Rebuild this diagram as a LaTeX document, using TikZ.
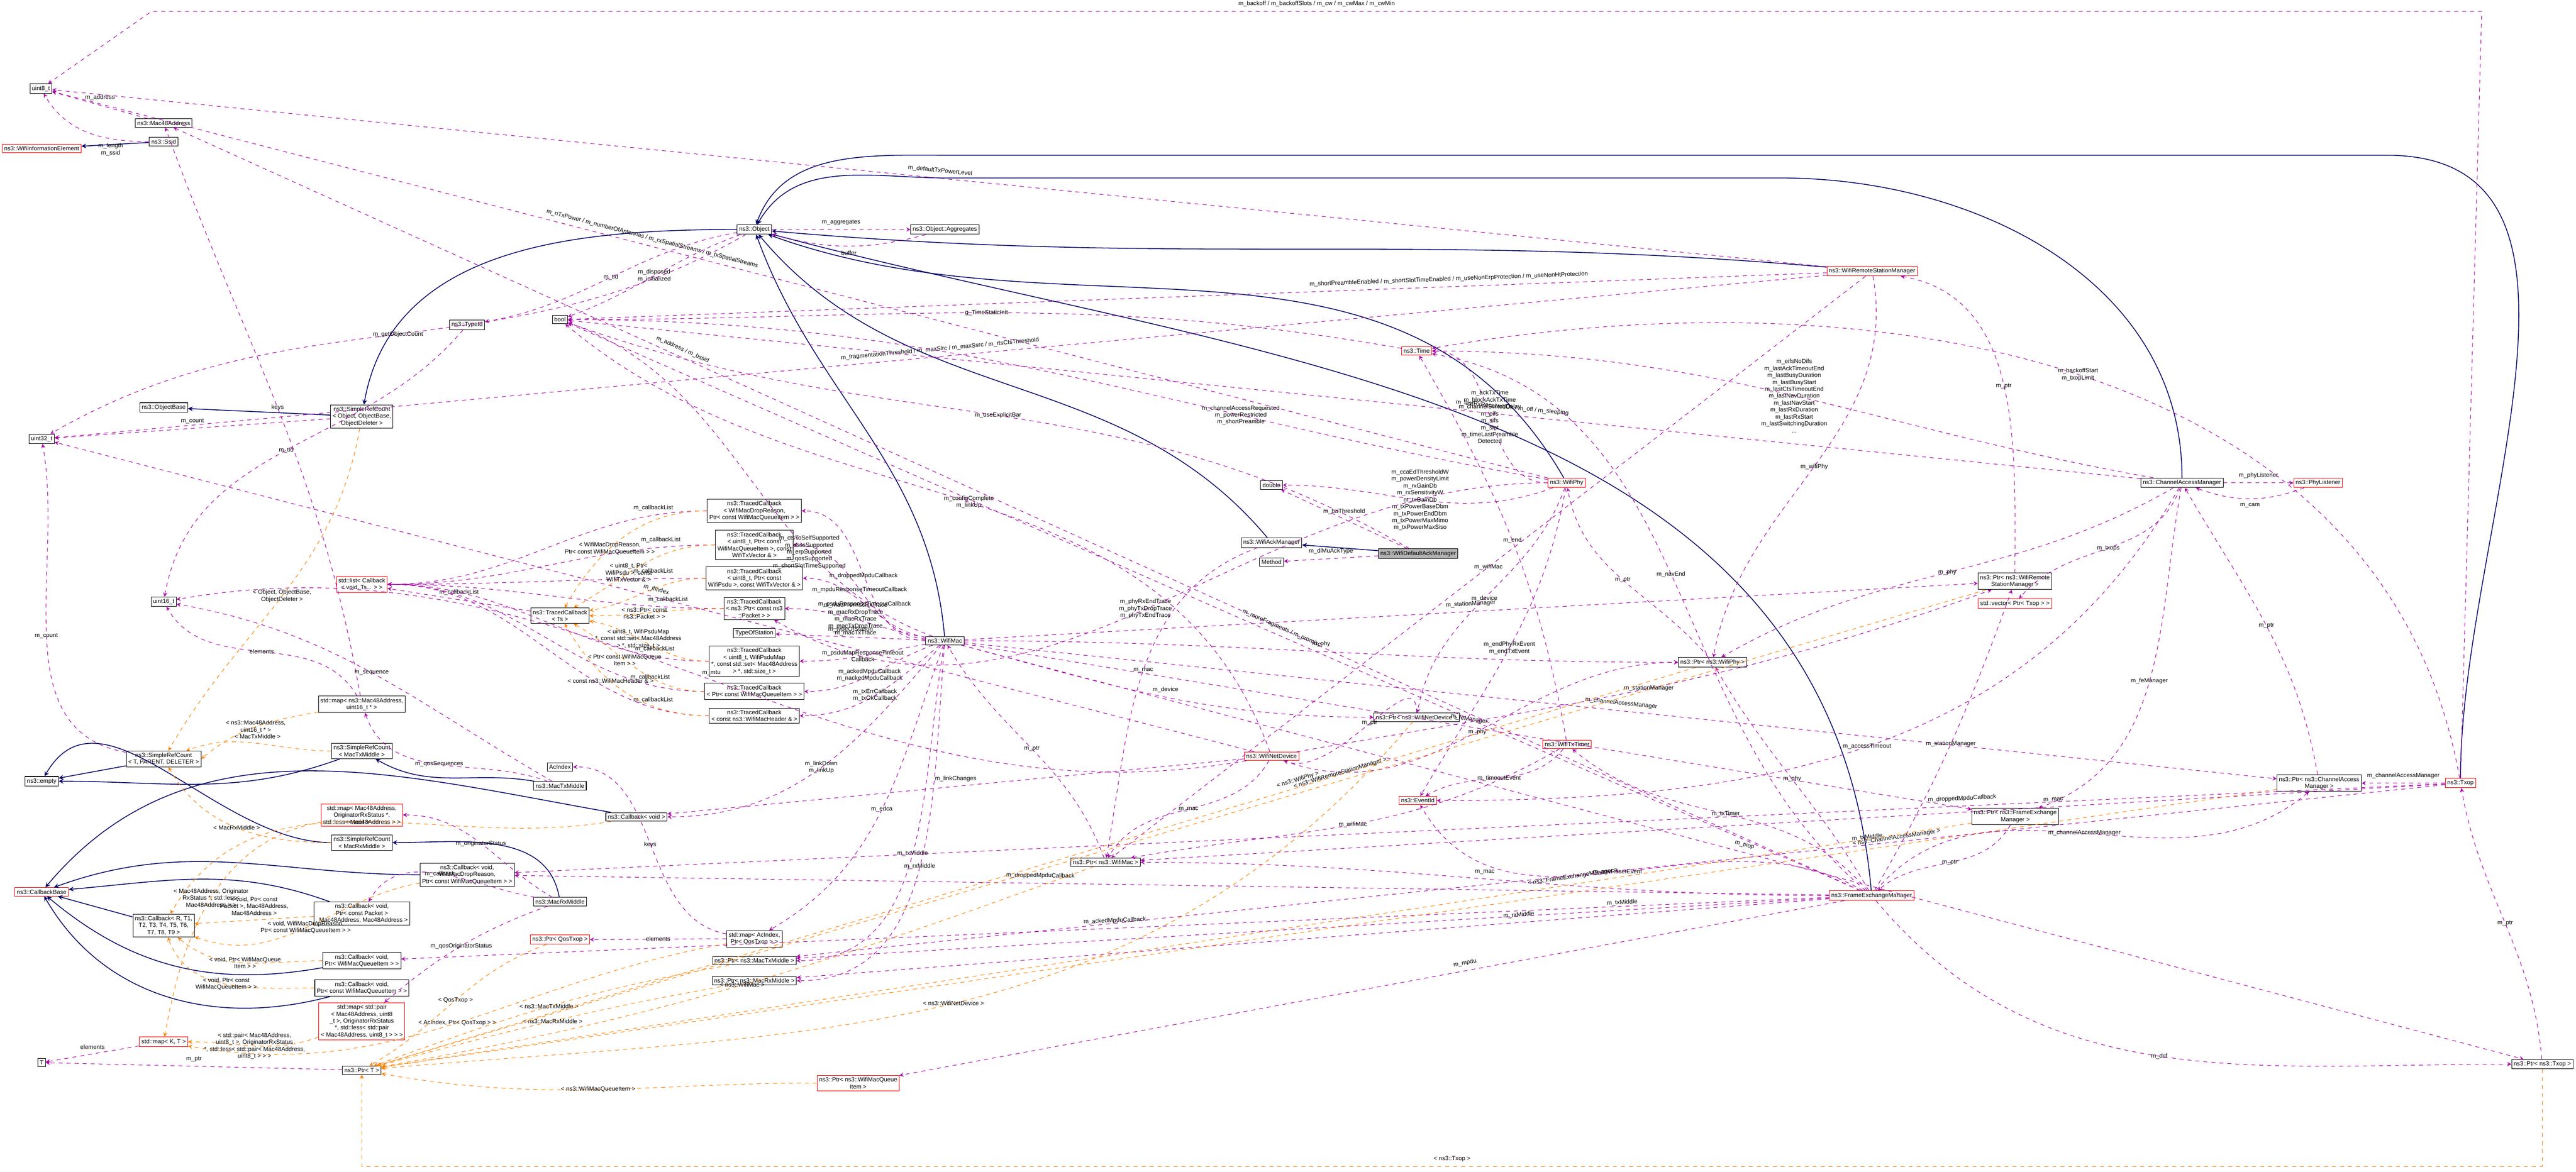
\documentclass[tikz,border=0pt]{standalone}
\usepackage{fontspec}
\setmainfont{Liberation Sans}
\usetikzlibrary{shapes,positioning,arrows}
\newcommand{\tinyf}{\fontsize{4.5}{5.2}\selectfont}

\begin{document}
\begin{tikzpicture}[
    box/.style={draw=black, fill=white, inner sep=1.5pt, font=\tinyf, align=center},
    redbox/.style={box, draw=red},
    inh/.style={draw=blue!40!black, -stealth, semithick},
    use/.style={draw=violet!70!magenta, dashed, -stealth},
    tpl/.style={draw=orange, dashed, -stealth},
    lbl/.style={font=\tinyf, align=center, midway, fill=white, fill opacity=0, text opacity=1}]
    \useasboundingbox (0,0) rectangle (67.99,-30.94);

    % left column
    \node[box] (u8) at (1.08,-2.34) {uint8\_t};
    \node[redbox] (wie) at (1.10,-3.92) {ns3::WifiInformationElement};
    \node[box] (u32) at (1.10,-11.59) {uint32\_t};
    \node[box] (empty) at (1.10,-20.63) {ns3::empty};
    \node[redbox] (cbbase) at (1.10,-23.55) {ns3::CallbackBase};
    \node[box] (tT) at (1.10,-28.06) {T};

    % second column
    \node[box] (mac48) at (4.32,-3.25) {ns3::Mac48Address};
    \node[box] (ssid) at (4.32,-3.74) {ns3::Ssid};
    \node[box] (objbase) at (4.32,-10.76) {ns3::ObjectBase};
    \node[box] (u16) at (4.32,-15.89) {uint16\_t};
    \node[box] (srct) at (4.32,-20.04) {ns3::SimpleRefCount\\< T, PARENT, DELETER >};
    \node[box] (cbgen) at (4.32,-24.44) {ns3::Callback< R, T1,\\T2, T3, T4, T5, T6,\\T7, T8, T9 >};
    \node[redbox] (mapk) at (4.32,-27.51) {std::map< K, T >};

    % third column
    \node[box] (srcobj) at (9.55,-11.00) {ns3::SimpleRefCount\\< Object, ObjectBase,\\ObjectDeleter >};
    \node[redbox] (stdlist) at (9.55,-15.43) {std::list< Callback\\< void, Ts... > >};
    \node[box] (mapmu) at (9.55,-18.60) {std::map< ns3::Mac48Address,\\uint16\_t * >};
    \node[box] (srctx) at (9.55,-19.83) {ns3::SimpleRefCount\\< MacTxMiddle >};
    \node[redbox] (maporig) at (9.55,-21.52) {std::map< Mac48Address,\\OriginatorRxStatus *,\\std::less< Mac48Address > >};
    \node[box] (srcrx) at (9.55,-22.25) {ns3::SimpleRefCount\\< MacRxMiddle >};
    \node[box] (cbpkt) at (9.55,-24.12) {ns3::Callback< void,\\Ptr< const Packet >\\, Mac48Address, Mac48Address >};
    \node[box] (cbqi) at (9.55,-25.37) {ns3::Callback< void,\\Ptr< WifiMacQueueItem > >};
    \node[box] (cbcqi) at (9.55,-26.09) {ns3::Callback< void,\\Ptr< const WifiMacQueueItem > >};
    \node[redbox] (mappair) at (9.55,-26.97) {std::map< std::pair\\< Mac48Address, uint8\\\_t >, OriginatorRxStatus\\ *, std::less< std::pair\\< Mac48Address, uint8\_t > > >};
    \node[box] (ptrt) at (9.55,-28.26) {ns3::Ptr< T >};
    \node[box] (tid) at (12.33,-8.58) {ns3::TypeId};
    \node[box] (cbdrop) at (12.33,-23.10) {ns3::Callback< void,\\WifiMacDropReason,\\Ptr< const WifiMacQueueItem > >};

    % fourth column
    \node[box] (boolt) at (14.78,-8.44) {bool};
    \node[box] (tcgen) at (14.78,-16.26) {ns3::TracedCallback\\< Ts >};
    \node[box] (acidx) at (14.78,-20.25) {AcIndex};
    \node[box] (txmid) at (14.78,-20.75) {ns3::MacTxMiddle};
    \node[box] (rxmid) at (14.78,-23.81) {ns3::MacRxMiddle};
    \node[redbox] (ptrqos) at (14.78,-24.81) {ns3::Ptr< QosTxop >};
    \node[box] (cbvoid) at (16.80,-21.57) {ns3::Callback< void >};

    % fifth column
    \node[box] (obj) at (19.91,-6.06) {ns3::Object};
    \node[box] (tcdrop) at (19.91,-13.49) {ns3::TracedCallback\\< WifiMacDropReason,\\ Ptr< const WifiMacQueueItem > >};
    \node[box] (tcmpdu) at (19.91,-14.39) {ns3::TracedCallback\\< uint8\_t, Ptr< const\\ WifiMacQueueItem >, const\\ WifiTxVector \& >};
    \node[box] (tcpsdu) at (19.91,-15.27) {ns3::TracedCallback\\< uint8\_t, Ptr< const\\ WifiPsdu >, const WifiTxVector \& >};
    \node[box] (tcpkt) at (19.91,-16.07) {ns3::TracedCallback\\< ns3::Ptr< const ns3\\::Packet > >};
    \node[box] (tos) at (19.91,-16.72) {TypeOfStation};
    \node[box] (tcmap) at (19.91,-17.46) {ns3::TracedCallback\\< uint8\_t, WifiPsduMap\\ *, const std::set< Mac48Address\\ > *, std::size\_t >};
    \node[box] (tccqi) at (19.91,-18.26) {ns3::TracedCallback\\< Ptr< const WifiMacQueueItem > >};
    \node[box] (tchdr) at (19.91,-18.90) {ns3::TracedCallback\\< const ns3::WifiMacHeader \& >};
    \node[box] (mapac) at (19.91,-24.79) {std::map< AcIndex,\\Ptr< QosTxop > >};
    \node[box] (ptrtx) at (19.91,-25.37) {ns3::Ptr< ns3::MacTxMiddle >};
    \node[box] (ptrrx) at (19.91,-25.90) {ns3::Ptr< ns3::MacRxMiddle >};

    % middle
    \node[box] (aggr) at (24.94,-6.06) {ns3::Object::Aggregates};
    \node[box] (wmac) at (24.94,-16.92) {ns3::WifiMac};
    \node[redbox] (ptrqi) at (22.65,-28.60) {ns3::Ptr< ns3::WifiMacQueue\\Item >};
    \node[box] (ptrmac) at (29.18,-22.77) {ns3::Ptr< ns3::WifiMac >};
    \node[box] (dbl) at (33.56,-12.81) {double};
    \node[box] (wack) at (33.56,-14.33) {ns3::WifiAckManager};
    \node[box] (meth) at (33.56,-14.84) {Method};
    \node[redbox] (wdev) at (33.56,-19.97) {ns3::WifiNetDevice};
    \node[box, fill=gray!60] (wdack) at (37.43,-14.62) {ns3::WifiDefaultAckManager};
    \node[redbox] (wtime) at (37.39,-9.27) {ns3::Time};
    \node[box] (ptrdev) at (37.39,-18.94) {ns3::Ptr< ns3::WifiNetDevice >};
    \node[redbox] (evid) at (37.42,-21.14) {ns3::EventId};
    \node[redbox] (wphy) at (41.35,-12.75) {ns3::WifiPhy};
    \node[redbox] (txtimer) at (41.36,-19.66) {ns3::WifiTxTimer};
    \node[box] (ptrphy) at (45.20,-17.49) {ns3::Ptr< ns3::WifiPhy >};
    \node[redbox] (wrsm) at (49.41,-7.16) {ns3::WifiRemoteStationManager};
    \node[redbox] (fem) at (49.40,-23.65) {ns3::FrameExchangeManager};
    \node[box] (ptrrsm) at (53.18,-15.35) {ns3::Ptr< ns3::WifiRemote\\StationManager >};
    \node[redbox] (vtxop) at (53.18,-15.94) {std::vector< Ptr< Txop > >};
    \node[box] (ptrfem) at (53.19,-21.56) {ns3::Ptr< ns3::FrameExchange\\Manager >};
    \node[box] (cam) at (57.59,-12.75) {ns3::ChannelAccessManager};
    \node[redbox] (phyl) at (61.18,-12.75) {ns3::PhyListener};
    \node[box] (ptrcam) at (61.21,-20.68) {ns3::Ptr< ns3::ChannelAccess\\Manager >};
    \node[redbox] (txop) at (64.94,-20.68) {ns3::Txop};
    \node[box] (ptrtxop) at (67.10,-28.10) {ns3::Ptr< ns3::Txop >};

    % inheritance
    \draw[inh] (ssid) -- (wie);
    \draw[inh] (srcobj) -- (objbase);
    \draw[inh] (obj) to[out=180,in=80] (srcobj);
    \draw[inh] (srct) -- (empty);
    \draw[inh] (srctx) to[out=200,in=0] (empty);
    \draw[inh] (srcrx) to[out=180,in=60] (empty);
    \draw[inh] (txmid) to[out=170,in=-30] (srctx);
    \draw[inh] (rxmid) to[out=100,in=0] (srcrx);
    \draw[inh] (cbgen) -- (cbbase);
    \draw[inh] (cbdrop) to[out=180,in=20] (cbbase);
    \draw[inh] (cbpkt) to[out=160,in=5] (cbbase);
    \draw[inh] (cbqi) to[out=190,in=-40] (cbbase);
    \draw[inh] (cbcqi) to[out=195,in=-60] (cbbase);
    \draw[inh] (cbvoid) to[out=170,in=50] (cbbase);
    \draw[inh] (wmac) to[out=95,in=-70] (obj);
    \draw[inh] (wack) to[out=130,in=-50] (obj);
    \draw[inh] (wdack) -- (wack);
    \draw[inh] (wrsm) to[out=175,in=-5] (obj);
    \draw[inh] (wphy) to[out=120,in=-20] (obj);
    \draw[inh] (cam) to[out=90,in=0] (47,-4.7) -- (25,-4.7) to[out=180,in=60] (obj);
    \draw[inh] (txop) to[out=90,in=0] (63,-4.1) -- (25,-4.1) to[out=180,in=70] (obj);
    \draw[inh] (fem) to[out=95,in=-15] (obj);

    % members
    \draw[use] (mac48) -- node[lbl, above]{m\_address} (u8);
    \draw[use] (ssid) to[out=180,in=-60] node[lbl, pos=0.3, below]{m\_length\\m\_ssid} (u8);
    \draw[use] (obj) -- node[lbl, above]{m\_aggregates} (aggr);
    \draw[use] (aggr) to[bend left=15] node[lbl, below]{buffer} (obj);
    \draw[use] (obj) to[out=200,in=20] node[lbl]{m\_disposed\\m\_initialized} (boolt);
    \draw[use] (obj) to[out=190,in=10] node[lbl]{m\_tid} (tid);
    \draw[use] (obj) to[out=210,in=30] node[lbl]{m\_getObjectCount} (u32);
    \draw[use] (srcobj) -- node[lbl, above]{m\_count} (u32);
    \draw[use] (srct) to[out=170,in=-80] node[lbl]{m\_count} (u32);
    \draw[use] (tid) to[out=230,in=80] node[lbl]{m\_tid} (u16);
    \draw[use] (tcgen) -- node[lbl, above]{m\_callbackList} (stdlist);
    \foreach \t in {tcdrop,tcmpdu,tcpsdu,tcpkt,tcmap,tccqi,tchdr}
        \draw[use] (\t) to[out=180,in=0] node[lbl, pos=0.15, above]{m\_callbackList} (stdlist);
    \draw[use] (mapmu) to[out=100,in=-70] node[lbl]{keys} (mac48);
    \draw[use] (mapmu) to[out=120,in=-60] node[lbl]{elements} (u16);
    \draw[use] (txmid) to[out=160,in=-70] node[lbl]{m\_qosSequences} (mapmu);
    \draw[use] (txmid) to[out=150,in=-10] node[lbl]{m\_sequence} (u16);
    \draw[use] (rxmid) to[out=150,in=0] node[lbl]{m\_originatorStatus} (maporig);
    \draw[use] (rxmid) to[out=200,in=40] node[lbl]{m\_qosOriginatorStatus} (mappair);
    \draw[use] (rxmid) to[out=170,in=60] node[lbl]{m\_callback} (cbpkt);
    \draw[use] (mapk) -- node[lbl, above]{elements} (tT);
    \draw[use] (ptrt) -- node[lbl, above]{m\_ptr} (tT);
    \draw[use] (mapac) to[out=170,in=0] node[lbl]{keys} (acidx);
    \draw[use] (mapac) to[out=180,in=0] node[lbl]{elements} (ptrqos);
    \draw[use] (wmac) -- node[lbl, above]{m\_typeOfStation} (tos);
    \draw[use] (wmac) to[out=180,in=0] node[lbl]{m\_droppedMpduCallback} (tcdrop);
    \draw[use] (wmac) to[out=175,in=0] node[lbl]{m\_mpduResponseTimeoutCallback} (tcmpdu);
    \draw[use] (wmac) to[out=170,in=0] node[lbl]{m\_psduResponseTimeoutCallback} (tcpsdu);
    \draw[use] (wmac) to[out=170,in=0] node[lbl]{m\_macPromiscRxTrace\\m\_macRxDropTrace\\m\_macRxTrace\\m\_macTxDropTrace\\m\_macTxTrace} (tcpkt);
    \draw[use] (wmac) to[out=190,in=0] node[lbl]{m\_psduMapResponseTimeout\\Callback} (tcmap);
    \draw[use] (wmac) to[out=200,in=0] node[lbl]{m\_ackedMpduCallback\\m\_nackedMpduCallback} (tccqi);
    \draw[use] (wmac) to[out=220,in=0] node[lbl]{m\_txErrCallback\\m\_txOkCallback} (tchdr);
    \draw[use] (wmac) to[out=230,in=0] node[lbl]{m\_linkDown\\m\_linkUp} (cbvoid);
    \draw[use] (wmac) to[out=250,in=30] node[lbl]{m\_edca} (mapac);
    \draw[use] (wmac) to[out=260,in=0] node[lbl]{m\_txMiddle} (ptrtx);
    \draw[use] (wmac) to[out=265,in=0] node[lbl]{m\_rxMiddle} (ptrrx);
    \draw[use] (wmac) to[out=160,in=-20] node[lbl, pos=0.3]{m\_ctsToSelfSupported\\m\_dsssSupported\\m\_erpSupported\\m\_qosSupported\\m\_shortSlotTimeSupported} (boolt);
    \draw[use] (wmac) to[out=-15,in=180] node[lbl, above]{m\_device} (ptrdev);
    \draw[use] (wmac) to[out=0,in=180] node[lbl, above]{m\_phy} (ptrphy);
    \draw[use] (wmac) -- node[lbl, above, sloped]{m\_stationManager} (ptrrsm);
    \draw[use] (wmac) -- node[lbl, above, sloped]{m\_feManager} (ptrfem);
    \draw[use] (wmac) -- node[lbl, above, sloped]{m\_channelAccessManager} (ptrcam);
    \draw[use] (wmac) -- node[lbl, above, sloped]{m\_txop} (ptrtxop);
    \draw[use] (ptrmac) to[out=110,in=-60] node[lbl]{m\_ptr} (wmac);
    \draw[use] (wdev) to[out=240,in=60] node[lbl]{m\_mac} (ptrmac);
    \draw[use] (wdev) -- node[lbl, above]{m\_linkChanges} (cbvoid);
    \draw[use] (wdev) to[out=190,in=10] node[lbl, above]{m\_mtu} (u16);
    \draw[use] (wdev) -- node[lbl, above, sloped]{m\_ifIndex} (u32);
    \draw[use] (wdev) to[out=110,in=-40] node[lbl]{m\_configComplete\\m\_linkUp} (boolt);
    \draw[use] (wdev) to[out=-20,in=180] node[lbl]{m\_phy} (ptrphy);
    \draw[use] (wdev) to[out=10,in=200] node[lbl]{m\_stationManager} (ptrrsm);
    \draw[use] (ptrdev) to[out=90,in=-20] node[lbl]{m\_ptr} (wdev);
    \draw[use] (wrsm) -- node[lbl]{m\_wifiMac} (ptrmac);
    \draw[use] (wrsm) to[out=-80,in=80] node[lbl]{m\_wifiPhy} (ptrphy);
    \draw[use] (wrsm) -- node[lbl, above, sloped]{m\_defaultTxPowerLevel} (u8);
    \draw[use] (wrsm) -- node[lbl, above, sloped]{m\_fragmentationThreshold / m\_maxSlrc / m\_maxSsrc / m\_rtsCtsThreshold} (u32);
    \draw[use] (wrsm) -- node[lbl, above, sloped, pos=0.3]{m\_shortPreambleEnabled / m\_shortSlotTimeEnabled / m\_useNonErpProtection / m\_useNonHtProtection} (boolt);
    \draw[use] (ptrrsm) to[out=90,in=-10] node[lbl]{m\_ptr} (wrsm);
    \draw[use] (wphy) to[out=180,in=0] node[lbl]{m\_ackTxTime\\m\_blockAckTxTime\\m\_channelSwitchDelay\\m\_pifs\\m\_sifs\\m\_slot\\m\_timeLastPreamble\\Detected} (wtime);
    \draw[use] (wphy) to[out=200,in=0] node[lbl]{m\_ccaEdThresholdW\\m\_powerDensityLimit\\m\_rxGainDb\\m\_rxSensitivityW\\m\_txGainDb\\m\_txPowerBaseDbm\\m\_txPowerEndDbm\\m\_txPowerMaxMimo\\m\_txPowerMaxSiso} (dbl);
    \draw[use] (wphy) to[out=170,in=0] node[lbl, pos=0.3]{m\_channelAccessRequested\\m\_powerRestricted\\m\_shortPreamble} (boolt);
    \draw[use] (wphy) -- node[lbl, above, sloped, pos=0.6]{m\_nTxPower / m\_numberOfAntennas / m\_rxSpatialStreams / m\_txSpatialStreams} (u8);
    \draw[use] (wphy) to[out=250,in=80] node[lbl]{m\_device} (ptrdev);
    \draw[use] (wphy) to[out=260,in=60] node[lbl]{m\_endPhyRxEvent\\m\_endTxEvent} (evid);
    \draw[use] (wphy) to[out=180,in=-30] node[lbl]{m\_phyRxEndTrace\\m\_phyTxDropTrace\\m\_phyTxEndTrace} (tcpkt);
    \draw[use] (ptrphy) to[out=130,in=-80] node[lbl]{m\_ptr} (wphy);
    \draw[use] (wdack) -- node[lbl, above]{m\_baThreshold} (dbl);
    \draw[use] (wdack) -- node[lbl, above]{m\_dlMuAckType} (meth);
    \draw[use] (wdack) to[out=150,in=-20] node[lbl]{m\_useExplicitBar} (boolt);
    \draw[use] (wack) to[out=200,in=80] node[lbl]{m\_mac} (ptrmac);
    \draw[use] (wtime) to[out=170,in=0] node[lbl]{g\_TimeStaticInit} (boolt);
    \draw[use] (cam) -- node[lbl, above]{m\_phyListener} (phyl);
    \draw[use] (phyl) to[bend left=20] node[lbl, below]{m\_cam} (cam);
    \draw[use] (cam) to[out=170,in=0] node[lbl]{m\_eifsNoDifs\\m\_lastAckTimeoutEnd\\m\_lastBusyDuration\\m\_lastBusyStart\\m\_lastCtsTimeoutEnd\\m\_lastNavDuration\\m\_lastNavStart\\m\_lastRxDuration\\m\_lastRxStart\\m\_lastSwitchingDuration\\...} (wtime);
    \draw[use] (cam) -- node[lbl, above, sloped, pos=0.4]{m\_lastRxReceivedOk / m\_off / m\_sleeping} (boolt);
    \draw[use] (cam) to[out=-110,in=50] node[lbl]{m\_txops} (vtxop);
    \draw[use] (cam) to[out=-150,in=30] node[lbl]{m\_phy} (ptrphy);
    \draw[use] (cam) to[out=-100,in=20] node[lbl]{m\_feManager} (ptrfem);
    \draw[use] (cam) to[out=-120,in=0] node[lbl]{m\_accessTimeout} (evid);
    \draw[use] (ptrcam) to[out=100,in=-60] node[lbl]{m\_ptr} (cam);
    \draw[use] (ptrfem) to[out=-120,in=40] node[lbl]{m\_ptr} (fem);
    \draw[use] (fem) to[out=180,in=0] node[lbl, above]{m\_mac} (ptrmac);
    \draw[use] (fem) to[out=120,in=-60] node[lbl]{m\_phy} (ptrphy);
    \draw[use] (fem) to[out=50,in=-140] node[lbl]{m\_channelAccessManager} (ptrcam);
    \draw[use] (fem) to[out=60,in=-110] node[lbl]{m\_stationManager} (ptrrsm);
    \draw[use] (fem) to[out=-50,in=180] node[lbl]{m\_dcf} (ptrtxop);
    \draw[use] (fem) -- node[lbl, above, sloped, pos=0.2]{m\_txMiddle} (ptrtx);
    \draw[use] (fem) -- node[lbl, above, sloped, pos=0.3]{m\_rxMiddle} (ptrrx);
    \draw[use] (fem) -- node[lbl, above, sloped, pos=0.4]{m\_mpdu} (ptrqi);
    \draw[use] (fem) to[out=150,in=-60] node[lbl]{m\_navResetEvent} (evid);
    \draw[use] (fem) to[out=130,in=-40] node[lbl]{m\_txTimer} (txtimer);
    \draw[use] (fem) to[out=140,in=-10] node[lbl]{m\_navEnd} (wtime);
    \draw[use] (fem) -- node[lbl, above, sloped, pos=0.7]{m\_address / m\_bssid} (mac48);
    \draw[use] (fem) -- node[lbl, above, sloped, pos=0.45]{m\_moreFragments / m\_promisc} (boolt);
    \draw[use] (fem) -- node[lbl, above, sloped, pos=0.6]{m\_droppedMpduCallback} (cbdrop);
    \draw[use] (fem) -- node[lbl, above, sloped, pos=0.5]{m\_ackedMpduCallback} (cbqi);
    \draw[use] (txtimer) to[out=230,in=30] node[lbl]{m\_timeoutEvent} (evid);
    \draw[use] (txtimer) to[out=100,in=-60] node[lbl]{m\_end} (wtime);
    \draw[use] (txtimer) to[out=210,in=10] node[lbl]{m\_wifiMac} (ptrmac);
    \draw[use] (txop) -- node[lbl, above]{m\_channelAccessManager} (ptrcam);
    \draw[use] (txop) to[out=100,in=10] node[lbl]{m\_backoffStart\\m\_txopLimit} (wtime);
    \draw[use] (txop) -- (65.5,-0.3) -- node[lbl, above]{m\_backoff / m\_backoffSlots / m\_cw / m\_cwMax / m\_cwMin} (4,-0.3) -- (u8);
    \draw[use] (txop) -- node[lbl, above, sloped, pos=0.35]{m\_txMiddle} (ptrtx);
    \draw[use] (txop) -- node[lbl, above, sloped, pos=0.3]{m\_mac} (ptrmac);
    \draw[use] (txop) -- node[lbl, above, sloped, pos=0.25]{m\_droppedMpduCallback} (cbdrop);
    \draw[use] (ptrtxop) to[out=95,in=-80] node[lbl]{m\_ptr} (txop);

    % template instances
    \draw[tpl] (srcobj) to[out=-100,in=60] node[lbl]{< Object, ObjectBase,\\ObjectDeleter >} (srct);
    \draw[tpl] (srctx) to[out=180,in=20] node[lbl, above]{< MacTxMiddle >} (srct);
    \draw[tpl] (srcrx) to[out=180,in=-60] node[lbl]{< MacRxMiddle >} (srct);
    \draw[tpl] (mapmu) to[out=190,in=40] node[lbl]{< ns3::Mac48Address,\\uint16\_t * >} (srct.east);
    \draw[tpl] (maporig) to[out=190,in=80] node[lbl]{< Mac48Address, Originator\\RxStatus *, std::less<\\Mac48Address > >} (mapk);
    \draw[tpl] (mappair) to[out=200,in=0] node[lbl]{< std::pair< Mac48Address,\\uint8\_t >, OriginatorRxStatus\\*, std::less< std::pair< Mac48Address,\\uint8\_t > > >} (mapk);
    \draw[tpl] (mapac) to[out=190,in=-10] node[lbl]{< AcIndex, Ptr< QosTxop > >} (mapk);
    \draw[tpl] (cbdrop) to[out=190,in=-20] node[lbl]{< void, WifiMacDropReason,\\Ptr< const WifiMacQueueItem > >} (cbgen);
    \draw[tpl] (cbpkt) -- node[lbl, above]{< void, Ptr< const\\Packet >, Mac48Address,\\Mac48Address >} (cbgen);
    \draw[tpl] (cbqi) to[out=180,in=-40] node[lbl]{< void, Ptr< WifiMacQueue\\Item > >} (cbgen);
    \draw[tpl] (cbcqi) to[out=180,in=-70] node[lbl]{< void, Ptr< const\\WifiMacQueueItem > >} (cbgen);
    \draw[tpl] (cbvoid) to[out=190,in=60] node[lbl]{< void >} (cbgen);
    \draw[tpl] (tcdrop) to[out=180,in=60] node[lbl, pos=0.6]{< WifiMacDropReason,\\Ptr< const WifiMacQueueItem > >} (tcgen);
    \draw[tpl] (tcmpdu) to[out=180,in=30] node[lbl, pos=0.6]{< uint8\_t, Ptr<\\WifiPsdu >, const\\WifiTxVector \& >} (tcgen);
    \draw[tpl] (tcpsdu) to[out=180,in=10] (tcgen);
    \draw[tpl] (tcpkt) to[out=180,in=0] node[lbl, pos=0.6]{< ns3::Ptr< const\\ns3::Packet > >} (tcgen);
    \draw[tpl] (tcmap) to[out=180,in=-10] node[lbl, pos=0.6]{< uint8\_t, WifiPsduMap\\*, const std::set< Mac48Address\\> *, std::size\_t >} (tcgen);
    \draw[tpl] (tccqi) to[out=180,in=-30] node[lbl, pos=0.6]{< Ptr< const WifiMacQueue\\Item > >} (tcgen);
    \draw[tpl] (tchdr) to[out=180,in=-60] node[lbl, pos=0.6]{< const ns3::WifiMacHeader \& >} (tcgen);
    \draw[tpl] (ptrqos) to[out=200,in=30] node[lbl]{< QosTxop >} (ptrt);
    \draw[tpl] (ptrtx) to[out=190,in=20] node[lbl]{< ns3::MacTxMiddle >} (ptrt);
    \draw[tpl] (ptrrx) to[out=190,in=15] node[lbl]{< ns3::MacRxMiddle >} (ptrt);
    \draw[tpl] (ptrmac) to[out=200,in=10] node[lbl]{< ns3::WifiMac >} (ptrt);
    \draw[tpl] (ptrdev) to[out=230,in=5] node[lbl]{< ns3::WifiNetDevice >} (ptrt);
    \draw[tpl] (ptrphy) -- node[lbl, above, sloped, pos=0.3]{< ns3::WifiPhy >} (ptrt);
    \draw[tpl] (ptrrsm) -- node[lbl, above, sloped, pos=0.4]{< ns3::WifiRemoteStationManager >} (ptrt);
    \draw[tpl] (ptrqi) to[out=180,in=-10] node[lbl]{< ns3::WifiMacQueueItem >} (ptrt);
    \draw[tpl] (ptrfem) -- node[lbl, above, sloped, pos=0.25]{< ns3::FrameExchangeManager >} (ptrt);
    \draw[tpl] (ptrcam) -- node[lbl, above, sloped, pos=0.2]{< ns3::ChannelAccessManager >} (ptrt);
    \draw[tpl] (ptrtxop) -- (67.1,-30.8) -- node[lbl, above]{< ns3::Txop >} (9.55,-30.8) -- (ptrt);
\end{tikzpicture}
\end{document}
